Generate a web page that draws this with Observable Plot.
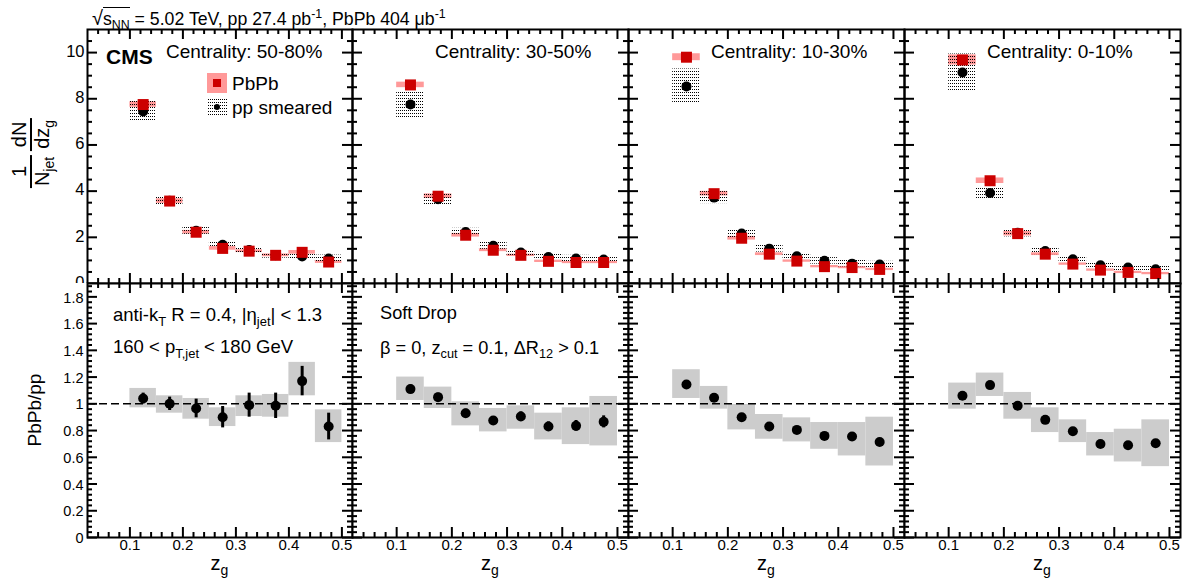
<!DOCTYPE html>
<html><head><meta charset="utf-8">
<script src="https://cdn.jsdelivr.net/npm/d3@7"></script>
<script src="https://cdn.jsdelivr.net/npm/@observablehq/plot@0.6"></script>
<style>
body{margin:0;background:#fff;font-family:"Liberation Sans",Arial,Helvetica,sans-serif;}
#chart{position:relative;width:1193px;height:586px;overflow:hidden;background:#fff;}
.abs{position:absolute;white-space:nowrap;color:#000;line-height:1;}
sub{font-size:70%;vertical-align:-0.35em;line-height:0;}
sup{font-size:70%;vertical-align:0.6em;line-height:0;}
.frac{display:inline-flex;flex-direction:column;align-items:stretch;text-align:center;line-height:1.05;}
.den{border-top:2px solid #000;padding:0 2px;}
</style>
</head><body>
<svg width="0" height="0" style="position:absolute"><defs>
<pattern id="dots" patternUnits="userSpaceOnUse" width="2" height="3"><rect x="0" y="0" width="1" height="1" fill="#000"/></pattern>
</defs></svg>
<div id="chart"></div>
<script>
// ---------------- data ----------------
const centralities = ["50-80%", "30-50%", "10-30%", "0-10%"];
const zgBinEdges = [0.10, 0.15, 0.20, 0.25, 0.30, 0.35, 0.40, 0.45, 0.50];
const zgCenters  = [0.125, 0.175, 0.225, 0.275, 0.325, 0.375, 0.425, 0.475];

const zgTicks    = [0.1, 0.2, 0.3, 0.4, 0.5];
const distTicks  = [0, 2, 4, 6, 8, 10];
const ratioTicks = [0, 0.2, 0.4, 0.6, 0.8, 1, 1.2, 1.4, 1.6, 1.8];

// 1/Njet dN/dzg  (PbPb and smeared pp), with systematic half-heights
const pbpb_50_80    = [7.75, 3.57, 2.22, 1.52, 1.40, 1.22, 1.35, 0.93];
const pbpbSys_50_80 = [0.12, 0.10, 0.08, 0.08, 0.06, 0.06, 0.08, 0.06];
const pp_50_80      = [7.45, 3.58, 2.28, 1.68, 1.45, 1.22, 1.17, 1.08];
const ppSys_50_80   = [0.45, 0.20, 0.15, 0.15, 0.12, 0.12, 0.15, 0.15];

const pbpb_30_50    = [8.60, 3.78, 2.09, 1.44, 1.22, 0.96, 0.91, 0.91];
const pbpbSys_30_50 = [0.12, 0.10, 0.08, 0.06, 0.05, 0.05, 0.05, 0.05];
const pp_30_50      = [7.75, 3.65, 2.23, 1.63, 1.34, 1.15, 1.08, 1.04];
const ppSys_30_50   = [0.58, 0.24, 0.16, 0.15, 0.13, 0.14, 0.14, 0.14];

const pbpb_10_30    = [9.80, 3.89, 1.96, 1.27, 0.97, 0.73, 0.69, 0.61];
const pbpbSys_10_30 = [0.15, 0.10, 0.08, 0.06, 0.05, 0.05, 0.05, 0.05];
const pp_10_30      = [8.53, 3.72, 2.16, 1.51, 1.18, 0.98, 0.86, 0.82];
const ppSys_10_30   = [0.76, 0.26, 0.20, 0.15, 0.14, 0.14, 0.14, 0.14];

const pbpb_0_10     = [9.68, 4.45, 2.16, 1.27, 0.84, 0.58, 0.48, 0.43];
const pbpbSys_0_10  = [0.22, 0.12, 0.10, 0.06, 0.05, 0.05, 0.05, 0.05];
const pp_0_10       = [9.14, 3.92, 2.20, 1.41, 1.05, 0.79, 0.69, 0.62];
const ppSys_0_10    = [0.80, 0.26, 0.18, 0.16, 0.14, 0.13, 0.13, 0.13];

// PbPb/pp ratio, statistical half-error, systematic box low/high
const ratio_50_80     = [1.04, 1.00, 0.965, 0.90, 0.99, 0.985, 1.17, 0.83];
const ratioStat_50_80 = [0.04, 0.05, 0.07, 0.08, 0.09, 0.095, 0.11, 0.10];
const ratioLo_50_80   = [0.97, 0.93, 0.885, 0.83, 0.905, 0.90, 1.06, 0.71];
const ratioHi_50_80   = [1.115, 1.06, 1.04, 0.97, 1.06, 1.07, 1.31, 0.955];

const ratio_30_50     = [1.11, 1.05, 0.93, 0.875, 0.905, 0.83, 0.835, 0.865];
const ratioStat_30_50 = [0.03, 0.03, 0.03, 0.03, 0.035, 0.035, 0.04, 0.045];
const ratioLo_30_50   = [1.025, 0.965, 0.835, 0.79, 0.81, 0.73, 0.695, 0.685];
const ratioHi_30_50   = [1.20, 1.125, 1.015, 0.965, 0.985, 0.93, 0.97, 1.055];

const ratio_10_30     = [1.145, 1.045, 0.90, 0.83, 0.805, 0.76, 0.755, 0.715];
const ratioStat_10_30 = [0.02, 0.02, 0.02, 0.02, 0.02, 0.02, 0.02, 0.02];
const ratioLo_10_30   = [1.04, 0.96, 0.805, 0.735, 0.715, 0.66, 0.61, 0.535];
const ratioHi_10_30   = [1.255, 1.13, 0.995, 0.92, 0.895, 0.86, 0.86, 0.90];

const ratio_0_10      = [1.06, 1.14, 0.985, 0.88, 0.795, 0.70, 0.69, 0.705];
const ratioStat_0_10  = [0.02, 0.02, 0.02, 0.02, 0.02, 0.02, 0.02, 0.02];
const ratioLo_0_10    = [0.96, 1.055, 0.885, 0.785, 0.71, 0.61, 0.565, 0.53];
const ratioHi_0_10    = [1.155, 1.23, 1.085, 0.97, 0.88, 0.785, 0.81, 0.88];

const pbpbAll = [pbpb_50_80, pbpb_30_50, pbpb_10_30, pbpb_0_10];
const pbpbSysAll = [pbpbSys_50_80, pbpbSys_30_50, pbpbSys_10_30, pbpbSys_0_10];
const ppAll = [pp_50_80, pp_30_50, pp_10_30, pp_0_10];
const ppSysAll = [ppSys_50_80, ppSys_30_50, ppSys_10_30, ppSys_0_10];
const ratioAll = [ratio_50_80, ratio_30_50, ratio_10_30, ratio_0_10];
const ratioStatAll = [ratioStat_50_80, ratioStat_30_50, ratioStat_10_30, ratioStat_0_10];
const ratioLoAll = [ratioLo_50_80, ratioLo_30_50, ratioLo_10_30, ratioLo_0_10];
const ratioHiAll = [ratioHi_50_80, ratioHi_30_50, ratioHi_10_30, ratioHi_0_10];

// ---------------- layout ----------------
const colX = [87, 352, 628, 904, 1180];
const rowY = [29, 283, 537];
const xDomain = [0.02, 0.52];
const FONT = "'Liberation Sans', Arial, Helvetica, sans-serif";
const RED = "#cc0000", PINK = "#ff9999", GREY = "#cccccc";

const near = (v, arr, eps) => arr.some(a => Math.abs(a - v) < eps);
const xMinor = d3.range(0.02, 0.53, 0.02).filter(v => v > xDomain[0] + 1e-6 && v < xDomain[1] - 1e-6 && !near(v, zgTicks, 1e-6));
const yMinorTop = d3.range(0.5, 11, 0.5).filter(v => !near(v, distTicks, 1e-6));
const yMinorBot = d3.range(0.04, 1.9, 0.04).filter(v => !near(v, ratioTicks, 1e-6));

function tickMarks(w, h, yMaj, yMin) {
  const M = 10, m = 5, sw = 2;
  return [
    Plot.tickY(yMaj, {y: d => d, insetRight: w - M, strokeWidth: sw}),
    Plot.tickY(yMaj, {y: d => d, insetLeft: w - M, strokeWidth: sw}),
    Plot.tickY(yMin, {y: d => d, insetRight: w - m, strokeWidth: sw}),
    Plot.tickY(yMin, {y: d => d, insetLeft: w - m, strokeWidth: sw}),
    Plot.tickX(zgTicks, {x: d => d, insetTop: h - M, strokeWidth: sw}),
    Plot.tickX(zgTicks, {x: d => d, insetBottom: h - M, strokeWidth: sw}),
    Plot.tickX(xMinor, {x: d => d, insetTop: h - m, strokeWidth: sw}),
    Plot.tickX(xMinor, {x: d => d, insetBottom: h - m, strokeWidth: sw})
  ];
}

const chart = document.getElementById("chart");
function place(svg, left, top, bg) {
  svg.style.position = "absolute";
  svg.style.left = left + "px";
  svg.style.top = top + "px";
  svg.style.overflow = "visible";
  svg.style.background = bg;
  svg.style.maxWidth = "none";
  chart.appendChild(svg);
}

for (let c = 0; c < 4; c++) {
  const x0 = colX[c], w = colX[c + 1] - colX[c];
  const ml = c === 0 ? x0 : 0;
  // top row
  {
    const h = rowY[1] - rowY[0];
    const rows = zgCenters.map((z, i) => ({
      z, lo: zgBinEdges[i], hi: zgBinEdges[i + 1],
      pbpb: pbpbAll[c][i], pbpbSys: pbpbSysAll[c][i],
      pp: ppAll[c][i], ppSys: ppSysAll[c][i]
    }));
    const marks = [
      Plot.rect(rows, {x1: "lo", x2: "hi", y1: d => d.pbpb - d.pbpbSys, y2: d => d.pbpb + d.pbpbSys, fill: PINK}),
      Plot.rect(rows, {x1: "lo", x2: "hi", y1: d => d.pp - d.ppSys, y2: d => d.pp + d.ppSys, fill: "url(#dots)"}),
      Plot.dot(rows, {x: "z", y: "pp", r: 5, fill: "#000"}),
      Plot.dot(rows, {x: "z", y: "pbpb", r: 6.2, symbol: "square", fill: RED}),
      ...tickMarks(w, h, distTicks, yMinorTop),
      Plot.frame({strokeWidth: 2})
    ];
    if (c === 0) marks.push(Plot.axisY(distTicks, {anchor: "left", tickSize: 0, tickPadding: 3, fontSize: 16.5, dy: -1, label: null}));
    const svg = Plot.plot({
      width: ml + w, height: h,
      marginLeft: ml, marginRight: 0, marginTop: 0, marginBottom: 0,
      x: {domain: xDomain, axis: null},
      y: {domain: [0, 11], axis: c === 0 ? undefined : null},
      style: {fontFamily: FONT, color: "#000"},
      marks
    });
    place(svg, c === 0 ? 0 : x0, rowY[0], "transparent");
  }
  // bottom row
  {
    const h = rowY[2] - rowY[1];
    const rows = zgCenters.map((z, i) => ({
      z, lo: zgBinEdges[i], hi: zgBinEdges[i + 1],
      r: ratioAll[c][i], stat: ratioStatAll[c][i],
      sysLo: ratioLoAll[c][i], sysHi: ratioHiAll[c][i]
    }));
    const marks = [
      Plot.rect(rows, {x1: "lo", x2: "hi", y1: "sysLo", y2: "sysHi", fill: GREY}),
      Plot.ruleY([1], {strokeDasharray: "8,4", strokeWidth: 1.5}),
      Plot.ruleX(rows, {x: "z", y1: d => d.r - d.stat, y2: d => d.r + d.stat, strokeWidth: 3}),
      Plot.dot(rows, {x: "z", y: "r", r: 5, fill: "#000"}),
      ...tickMarks(w, h, ratioTicks, yMinorBot),
      Plot.frame({strokeWidth: 2}),
      Plot.axisX(zgTicks, {anchor: "bottom", tickSize: 0, tickPadding: 2, fontSize: 15, label: null})
    ];
    if (c === 0) marks.push(Plot.axisY(ratioTicks, {anchor: "left", tickSize: 0, tickPadding: 4, fontSize: 14.5, dy: 1, label: null, tickFormat: d3.format("~g")}));
    const svg = Plot.plot({
      width: ml + w, height: h,
      marginLeft: ml, marginRight: 0, marginTop: 0, marginBottom: 0,
      x: {domain: xDomain},
      y: {domain: [0, 1.9], axis: c === 0 ? undefined : null},
      style: {fontFamily: FONT, color: "#000"},
      marks
    });
    place(svg, c === 0 ? 0 : x0, rowY[1], "#fff");
  }
}

// ---------------- text overlays ----------------
function addText(html, left, top, size, extra) {
  const d = document.createElement("div");
  d.className = "abs";
  d.style.left = left + "px";
  d.style.top = top + "px";
  d.style.fontSize = size + "px";
  if (extra) d.style.cssText += extra;
  d.innerHTML = html;
  chart.appendChild(d);
  return d;
}

addText('<span style="font-size:20px">√</span><span style="border-top:1.5px solid #000;padding-top:1px">s<sub>NN</sub></span> = 5.02 TeV, pp 27.4 pb<sup>-1</sup>, PbPb 404 μb<sup>-1</sup>', 92, 8, 17.7);
addText('CMS', 106, 46, 21, "font-weight:bold;");
centralities.forEach((cname, c) => {
  addText('Centrality: ' + cname, (c === 0 ? colX[c] + 79 : colX[c] + 83), 42, 19);
});

// legend
const lg = document.createElementNS("http://www.w3.org/2000/svg", "svg");
lg.setAttribute("width", 22); lg.setAttribute("height", 46);
lg.style.cssText = "position:absolute;left:206px;top:72px;overflow:visible";
lg.innerHTML = `<rect x="1" y="1" width="20" height="20" fill="${PINK}"/>
<rect x="7" y="7" width="8" height="8" fill="${RED}"/>
<rect x="1" y="25" width="20" height="20" fill="url(#dots)"/>
<circle cx="11" cy="35" r="3" fill="#000"/>`;
chart.appendChild(lg);
addText('PbPb', 232, 74, 19);
addText('pp smeared', 232, 98, 19);

addText('anti-k<sub>T</sub> R = 0.4, |η<sub>jet</sub>| &lt; 1.3', 113, 306, 18.5);
addText('160 &lt; p<sub>T,jet</sub> &lt; 180 GeV', 113, 338, 18.5);
addText('Soft Drop', 380, 304, 18.2);
addText('β = 0, z<sub>cut</sub> = 0.1, ΔR<sub>12</sub> &gt; 0.1', 380, 339, 18.2);

// axis titles
for (let c = 0; c < 4; c++) {
  const cx = (colX[c] + colX[c + 1]) / 2;
  addText('z<sub>g</sub>', cx, 553, 20, "transform:translateX(-50%);");
}
addText('PbPb/pp', 34, 410, 19, "transform:translate(-50%,-50%) rotate(-90deg);");
addText('<span class="frac"><span>1</span><span class="den">N<sub>jet</sub></span></span><span style="display:inline-block;width:4px"></span><span class="frac"><span>dN</span><span class="den">dz<sub>g</sub></span></span>',
  31, 153, 20, "transform:translate(-50%,-50%) rotate(-90deg);display:flex;align-items:center;");
</script>
</body></html>
